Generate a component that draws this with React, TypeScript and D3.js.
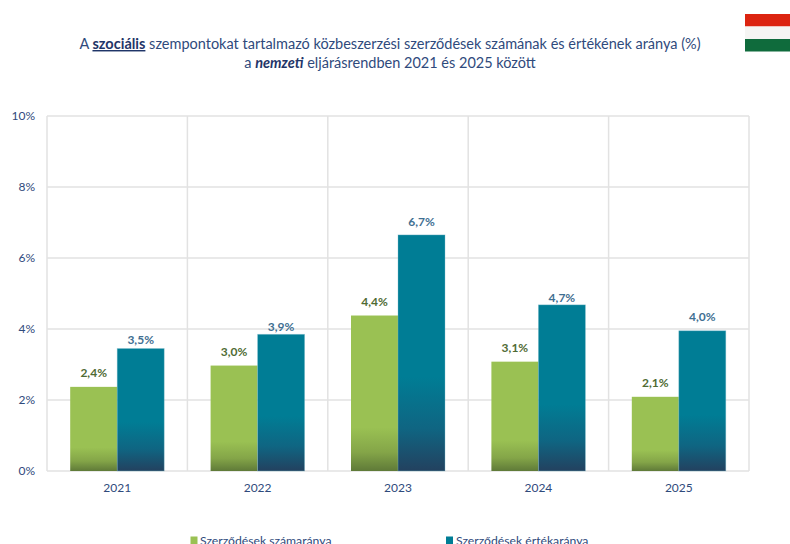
import React from "react";
import * as d3 from "d3";

const years = ["2021", "2022", "2023", "2024", "2025"];
const countShare = [2.37, 2.97, 4.38, 3.08, 2.09];
const valueShare = [3.45, 3.85, 6.65, 4.68, 3.95];
const countLabels = ["2,4%", "3,0%", "4,4%", "3,1%", "2,1%"];
const valueLabels = ["3,5%", "3,9%", "6,7%", "4,7%", "4,0%"];
const valueLabelGaps = [5, 3, 9, 3, 10];
const yTicks = [0, 2, 4, 6, 8, 10];
const seriesNames = ["Szerződések számaránya", "Szerződések értékaránya"];

const font = "Lato, 'Open Sans', sans-serif";
const navy = "#2f4a7c";

export default function App() {
  const x = d3.scaleBand<string>().domain(years).range([47, 749]).padding(0);
  const y = d3.scaleLinear().domain([0, 10]).range([471, 116]);
  const bw = 47;
  const edges = [...years.map((d) => x(d)!), 749];
  return (
    <svg width={790} height={544} style={{ position: "absolute", left: 0, top: 0, background: "#fff" }} fontFamily={font}>
      <defs>
        <linearGradient id="gGreen" x1="0" y1="0" x2="0" y2="1">
          <stop offset="0.72" stopColor="#9ac153" />
          <stop offset="0.88" stopColor="#84a548" />
          <stop offset="1" stopColor="#5f7a38" />
        </linearGradient>
        <linearGradient id="gTeal" x1="0" y1="0" x2="0" y2="1">
          <stop offset="0.6" stopColor="#007d95" />
          <stop offset="0.82" stopColor="#0f6582" />
          <stop offset="1" stopColor="#23415f" />
        </linearGradient>
      </defs>

      <rect x={745} y={14} width={45} height={12.5} fill="#dc2410" />
      <rect x={745} y={26.5} width={45} height={12.5} fill="#f5f5f3" />
      <rect x={745} y={39} width={45} height={12.5} fill="#0f6b3c" />

      <text x={390} y={49} textAnchor="middle" fontSize={14.5} fill={navy}>
        A <tspan fontWeight={700} textDecoration="underline" fill="#1f3568">szociális</tspan> szempontokat tartalmazó közbeszerzési szerződések számának és értékének aránya (%)
      </text>
      <text x={390} y={67.5} textAnchor="middle" fontSize={14.5} fill={navy}>
        a <tspan fontWeight={700} fontStyle="italic" fill="#1f3568">nemzeti</tspan> eljárásrendben 2021 és 2025 között
      </text>

      {yTicks.map((t) => (
        <g key={t}>
          <line x1={47} x2={749} y1={y(t)} y2={y(t)} stroke="#e2e2e2" strokeWidth={1.5} />
          <text x={35} y={y(t) + 4} textAnchor="end" fontSize={12} fill={navy}>{t}%</text>
        </g>
      ))}
      {edges.map((e) => (
        <line key={e} x1={e} x2={e} y1={116} y2={471} stroke="#e2e2e2" strokeWidth={1.5} />
      ))}

      {years.map((yr, i) => {
        const c = x(yr)! + x.bandwidth() / 2;
        return (
          <g key={yr}>
            <rect x={c - bw} y={y(countShare[i])} width={bw} height={y(0) - y(countShare[i])} fill="url(#gGreen)" />
            <rect x={c} y={y(valueShare[i])} width={bw} height={y(0) - y(valueShare[i])} fill="url(#gTeal)" stroke="#7fbccb" strokeOpacity={0.45} strokeWidth={0.8} />
            <text x={c - bw / 2} y={y(countShare[i]) - 10} textAnchor="middle" fontSize={12} fontWeight={700} fill="#4f6b34">{countLabels[i]}</text>
            <text x={c + bw / 2} y={y(valueShare[i]) - valueLabelGaps[i]} textAnchor="middle" fontSize={12} fontWeight={700} fill="#3f6f92">{valueLabels[i]}</text>
            <text x={c} y={492} textAnchor="middle" fontSize={12} fill={navy}>{yr}</text>
          </g>
        );
      })}

      <rect x={190.5} y={536.5} width={7} height={7.5} fill="#9ac153" />
      <text x={200} y={544.5} fontSize={12.2} fill={navy}>{seriesNames[0]}</text>
      <rect x={446} y={536.5} width={7} height={7.5} fill="#007d95" />
      <text x={456} y={544.5} fontSize={12.2} fill={navy}>{seriesNames[1]}</text>
    </svg>
  );
}
